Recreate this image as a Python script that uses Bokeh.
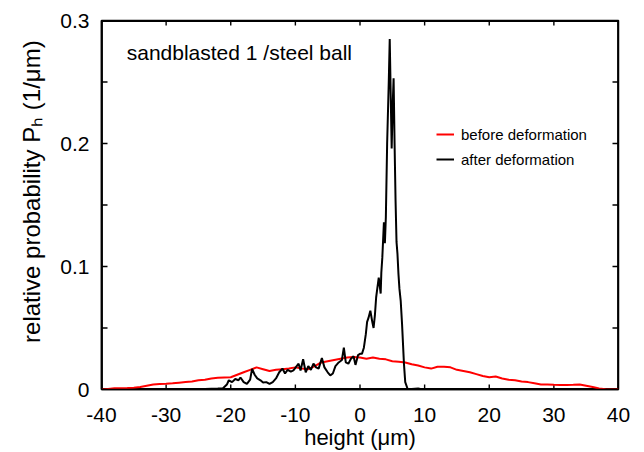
from bokeh.plotting import figure
from bokeh.models import (Range1d, FixedTicker, Label, Legend, LegendItem,
                          CustomJSTickFormatter)
from bokeh.embed import file_html
from bokeh.resources import INLINE

# ---- data ----
before_x = list(range(-40, 41))
before_y = [0.000, 0.0005, 0.001, 0.001, 0.0012, 0.0015, 0.002, 0.003, 0.004, 0.0045,
            0.0047, 0.005, 0.0055, 0.006, 0.0065, 0.0075, 0.008, 0.009, 0.0095, 0.0098,
            0.010, 0.012, 0.014, 0.016, 0.018, 0.0165, 0.015, 0.016, 0.0165, 0.017,
            0.018, 0.017, 0.0165, 0.019, 0.022, 0.023, 0.024, 0.025, 0.026, 0.0265,
            0.026, 0.025, 0.026, 0.025, 0.0245, 0.023, 0.0225, 0.022, 0.0205, 0.0195,
            0.018, 0.017, 0.0185, 0.0185, 0.018, 0.016, 0.015, 0.014, 0.0125, 0.011,
            0.010, 0.0105, 0.009, 0.008, 0.0075, 0.0065, 0.006, 0.005, 0.004, 0.004,
            0.0038, 0.0037, 0.0037, 0.0038, 0.004, 0.003, 0.002, 0.0008, 0.0003, 0.0, 0.0]

after_x = [-28.5, -26.0, -24.0, -22.0, -21.2, -20.6, -20.3, -19.8, -19.3, -18.8,
           -18.5, -18.0, -17.5, -17.0, -16.7, -16.3, -15.9, -15.4, -15.0, -14.5,
           -14.0, -13.5, -13.0, -12.5, -12.0, -11.6, -11.2, -10.7, -10.3, -9.8,
           -9.5, -9.2, -8.8, -8.4, -8.0, -7.6, -7.2, -6.8, -6.4, -5.9,
           -5.5, -5.0, -4.6, -4.2, -3.8, -3.3, -2.8, -2.5, -2.2, -1.8,
           -1.4, -1.0, -0.7, -0.3, 0.0, 0.3, 0.6, 0.9, 1.1, 1.3,
           1.6, 1.9, 2.1, 2.3, 2.5, 2.7, 2.9, 3.2, 3.3, 3.45,
           3.7, 3.85, 4.0, 4.2, 4.45, 4.6, 4.75, 4.9, 5.05, 5.2,
           5.35, 5.5, 5.65, 5.8, 5.95, 6.1, 6.3, 6.5, 6.8, 7.0,
           7.4, 8.0, 9.0, 9.7]
after_y = [0.0, 0.0003, 0.0005, 0.0008, 0.001, 0.004, 0.0075, 0.006, 0.0085, 0.0075,
           0.0098, 0.006, 0.0045, 0.008, 0.0168, 0.012, 0.009, 0.0075, 0.0057, 0.006,
           0.0045, 0.006, 0.009, 0.014, 0.017, 0.013, 0.016, 0.0145, 0.0155, 0.019,
           0.021, 0.0155, 0.0246, 0.014, 0.019, 0.016, 0.021, 0.018, 0.017, 0.0255,
           0.018, 0.014, 0.0115, 0.013, 0.019, 0.022, 0.024, 0.034, 0.022, 0.021,
           0.025, 0.027, 0.020, 0.028, 0.029, 0.029, 0.034, 0.045, 0.055, 0.058,
           0.064, 0.055, 0.050, 0.060, 0.075, 0.083, 0.091, 0.078, 0.095, 0.107,
           0.136, 0.119, 0.140, 0.200, 0.250, 0.285, 0.240, 0.196, 0.230, 0.253,
           0.200, 0.154, 0.120, 0.110, 0.094, 0.082, 0.072, 0.054, 0.021, 0.006,
           0.0, 0.0005, 0.0008, 0.0]

x_ticks = [-40, -30, -20, -10, 0, 10, 20, 30, 40]
y_ticks = [0, 0.1, 0.2, 0.3]
y_minor = [0.05, 0.15, 0.25]

FONT = "Liberation Sans"
X0, X1, Y0, Y1 = -40, 40, 0, 0.3
FRAME_W, FRAME_H = 517, 369          # frame size in px (from the borders below)
W, H = 644, 452
BL, BR, BT, BB = 101, W - 101 - FRAME_W, 20, H - 20 - FRAME_H

p = figure(width=W, height=H, output_backend="svg", toolbar_location=None,
           x_range=Range1d(X0, X1), y_range=Range1d(Y0, Y1),
           min_border_left=BL, min_border_right=BR, min_border_top=BT, min_border_bottom=BB)
p.background_fill_color = "white"
p.border_fill_color = "white"
p.xgrid.visible = False
p.ygrid.visible = False
p.outline_line_color = "black"
p.outline_line_width = 1.5

fmt = CustomJSTickFormatter(code="return String(Math.round(tick*100)/100);")

for ax, ticks, minor, standoff in ((p.xaxis[0], x_ticks, [], 18),
                                   (p.yaxis[0], y_ticks, y_minor, 12)):
    ax.ticker = FixedTicker(ticks=ticks, minor_ticks=minor)
    ax.formatter = fmt
    ax.axis_line_color = "black"
    ax.axis_line_width = 1.5
    ax.major_tick_line_color = None
    ax.minor_tick_line_color = None
    ax.major_tick_in = 0
    ax.major_tick_out = 0
    ax.minor_tick_in = 0
    ax.minor_tick_out = 0
    ax.major_label_standoff = standoff
    ax.major_label_text_font = FONT
    ax.major_label_text_font_size = "21px"
    ax.major_label_text_color = "black"
    ax.axis_label_text_font = FONT
    ax.axis_label_text_font_style = "normal"
    ax.axis_label_text_color = "black"

xa = p.xaxis[0]
ya = p.yaxis[0]
xa.axis_label = "height (μm)"
xa.axis_label_standoff = 0
xa.axis_label_text_font_size = "22px"
ya.axis_label = "\u00a0\u00a0\u00a0\u00a0relative probability Pₕ (1/μm)"
ya.axis_label_standoff = 12
ya.axis_label_text_font_size = "24px"

# ---- frame and inward tick marks, drawn as filled thin boxes before the data ----
px_x = (X1 - X0) / FRAME_W          # data units per px along x
px_y = (Y1 - Y0) / FRAME_H          # data units per px along y
lw = 1.4                            # stroke thickness in px
xt = 5 * px_y                       # x tick length
yt = 6 * px_x                       # y tick length
all_y = sorted(y_ticks + y_minor)
n, m = len(x_ticks), len(all_y)
hx, hy = lw / 2 * px_x, lw / 2 * px_y

p.quad(left=[t - hx for t in x_ticks], right=[t + hx for t in x_ticks],
       bottom=[Y0] * n, top=[Y0 + xt] * n, fill_color="black", line_color=None)
p.quad(left=[t - hx for t in x_ticks], right=[t + hx for t in x_ticks],
       bottom=[Y1 - xt] * n, top=[Y1] * n, fill_color="black", line_color=None)
p.quad(left=[X0] * m, right=[X0 + yt] * m,
       bottom=[v - hy for v in all_y], top=[v + hy for v in all_y],
       fill_color="black", line_color=None)
p.quad(left=[X1 - yt] * m, right=[X1] * m,
       bottom=[v - hy for v in all_y], top=[v + hy for v in all_y],
       fill_color="black", line_color=None)
# four frame edges
p.quad(left=[X0, X1 - 2 * hx, X0, X0], right=[X0 + 2 * hx, X1, X1, X1],
       bottom=[Y0, Y0, Y0, Y1 - 2 * hy], top=[Y1, Y1, Y0 + 2 * hy, Y1],
       fill_color="black", line_color=None)

# ---- data ----
r_before = p.line(before_x, before_y, line_color="#ff0000", line_width=2)
r_after = p.line(after_x, after_y, line_color="black", line_width=2)

legend = Legend(items=[LegendItem(label="before deformation", renderers=[r_before]),
                       LegendItem(label="after deformation", renderers=[r_after])],
                location=(335, 220), orientation="vertical",
                border_line_color=None, background_fill_alpha=0,
                padding=0, margin=0, spacing=5,
                glyph_width=18, glyph_height=20, label_height=20, label_standoff=7,
                label_text_font=FONT, label_text_font_size="15px",
                label_text_color="black")
p.add_layout(legend, "center")

p.add_layout(Label(x=-36.1, y=0.274, text="sandblasted 1 /steel ball",
                   text_font=FONT, text_font_size="21px", text_color="black",
                   text_align="left", text_baseline="middle"))

open("out.html", "w").write(file_html(p, INLINE))
